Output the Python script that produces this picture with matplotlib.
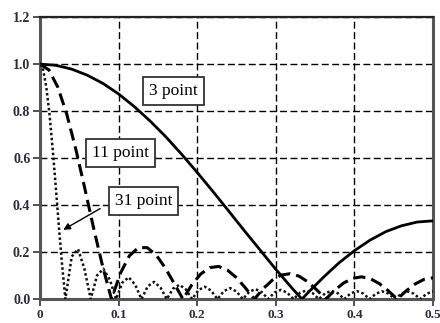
import matplotlib
matplotlib.use("Agg")
import matplotlib.pyplot as plt

# 3 point moving average
f3 = [0.00, 0.02, 0.04, 0.06, 0.08, 0.10, 0.12, 0.14, 0.16, 0.18, 0.20, 0.22, 0.24,
      0.26, 0.28, 0.30, 0.32, 0.3333, 0.34, 0.36, 0.38, 0.40, 0.42, 0.44, 0.46, 0.48, 0.50]
h3 = [1.000, 0.995, 0.979, 0.953, 0.918, 0.873, 0.819, 0.758, 0.691, 0.617, 0.539, 0.458, 0.375,
      0.291, 0.209, 0.127, 0.049, 0.000, 0.024, 0.091, 0.153, 0.206, 0.251, 0.287, 0.312, 0.328, 0.333]

# 11 point moving average
f11 = [0.0000, 0.01136, 0.02273, 0.03409, 0.04545, 0.05682, 0.06818, 0.07955, 0.09091,
       0.10227, 0.11364, 0.12500, 0.13636, 0.14773, 0.15909, 0.17045, 0.18182,
       0.19318, 0.20455, 0.21591, 0.22727, 0.23864, 0.25000, 0.26136, 0.27273,
       0.28409, 0.29545, 0.30682, 0.31818, 0.32955, 0.34091, 0.35227, 0.36364,
       0.37500, 0.38636, 0.39773, 0.40909, 0.42045, 0.43182, 0.44318, 0.45455,
       0.46591, 0.47727, 0.48864, 0.50000]
h11 = [1.000, 0.975, 0.901, 0.786, 0.639, 0.473, 0.302, 0.141, 0.000,
       0.110, 0.184, 0.219, 0.219, 0.188, 0.134, 0.068, 0.000,
       0.061, 0.107, 0.134, 0.139, 0.123, 0.091, 0.0475, 0.000,
       0.0447, 0.0803, 0.1022, 0.108, 0.0977, 0.0733, 0.0389, 0.000,
       0.0377, 0.0686, 0.0885, 0.0947, 0.0867, 0.0658, 0.0354, 0.000,
       0.035, 0.0644, 0.0840, 0.0909]

# 31 point moving average
f31 = [0.0, 0.004, 0.00806, 0.012, 0.01613, 0.020, 0.02419, 0.028, 0.03226,
       0.04032, 0.04839, 0.05645, 0.06452, 0.07258, 0.08065, 0.08871, 0.09677,
       0.10484, 0.11290, 0.12097, 0.12903, 0.13710, 0.14516, 0.15323, 0.16129,
       0.16935, 0.17742, 0.18548, 0.19355, 0.20161, 0.20968, 0.21774, 0.22581,
       0.23387, 0.24194, 0.25000, 0.25806, 0.26613, 0.27419, 0.28226, 0.29032,
       0.29839, 0.30645, 0.31452, 0.32258, 0.33065, 0.33871, 0.34677, 0.35484,
       0.36290, 0.37097, 0.37903, 0.38710, 0.39516, 0.40323, 0.41129, 0.41935,
       0.42742, 0.43548, 0.44355, 0.45161, 0.45968, 0.46774, 0.47581, 0.48387,
       0.49194, 0.50000]
h31 = [1.000, 0.975, 0.900, 0.788, 0.637, 0.478, 0.300, 0.148, 0.000,
       0.181, 0.213, 0.129, 0.000, 0.101, 0.129, 0.083, 0.000,
       0.0705, 0.0929, 0.0615, 0.000, 0.0546, 0.0732, 0.0493, 0.000,
       0.0450, 0.0610, 0.0414, 0.000, 0.0385, 0.0527, 0.0361, 0.000,
       0.0340, 0.0468, 0.0323, 0.000, 0.0307, 0.0425, 0.0294, 0.000,
       0.0283, 0.0393, 0.0273, 0.000, 0.0265, 0.0369, 0.0257, 0.000,
       0.0251, 0.0351, 0.0246, 0.000, 0.0241, 0.0338, 0.0237, 0.000,
       0.0234, 0.0329, 0.0232, 0.000, 0.0230, 0.0324, 0.0229, 0.000,
       0.0228, 0.0323]

xticks = [0, 0.1, 0.2, 0.3, 0.4, 0.5]
xticklabels = ["0", "0.1", "0.2", "0.3", "0.4", "0.5"]
yticks = [0.0, 0.2, 0.4, 0.6, 0.8, 1.0, 1.2]
yticklabels = ["0.0", "0.2", "0.4", "0.6", "0.8", "1.0", "1.2"]

fig = plt.figure(figsize=(4.4, 3.23), dpi=100)
ax = fig.add_axes([0.091, 0.074, 0.893, 0.873])

ax.plot(f3, h3, color="black", lw=2.0, solid_capstyle="butt", zorder=3)
ax.plot(f11, h11, color="black", lw=2.2, linestyle=(0, (4, 2)), zorder=3)
ax.plot(f31, h31, color="#111111", lw=1.8, linestyle=(0, (1, 1.0)), zorder=3)

ax.set_xlim(0, 0.5)
ax.set_ylim(0, 1.2)
ax.set_xticks(xticks)
ax.set_xticklabels(xticklabels)
ax.set_yticks(yticks)
ax.set_yticklabels(yticklabels)
ax.grid(True, color="black", lw=1.0, linestyle=(0, (5, 2.5)))
ax.set_axisbelow(True)

for lbl in ax.get_xticklabels():
    lbl.set_fontfamily("Liberation Serif")
    lbl.set_fontweight("bold")
    lbl.set_fontsize(9.5)
    lbl.set_color("#2b2b3b")
for lbl in ax.get_yticklabels():
    lbl.set_fontfamily("Liberation Serif")
    lbl.set_fontweight("bold")
    lbl.set_fontsize(10)
    lbl.set_color("#2b2b3b")
ax.tick_params(direction="out", length=5, width=1.2, pad=2, color="#333333")

for side in ["left", "bottom", "right"]:
    ax.spines[side].set_linewidth(2.2)
    ax.spines[side].set_color("#555555")
ax.spines["top"].set_linewidth(1.6)
ax.spines["top"].set_color("#222222")

box = dict(boxstyle="square,pad=0.35", fc="white", ec="#333333", lw=1.3)
tfont = dict(family="Liberation Serif", fontsize=12.5, color="black")
ax.text(0.1693, 0.885, "3 point", ha="center", va="center", bbox=box, zorder=5, **tfont)
ax.text(0.1024, 0.623, "11 point", ha="center", va="center", bbox=box, zorder=5, **tfont)
ax.annotate("", xy=(0.0265, 0.289), xytext=(0.0795, 0.391),
            arrowprops=dict(arrowstyle="-|>", color="black", lw=1.0, mutation_scale=10),
            zorder=5)
ax.text(0.1317, 0.419, "31 point", ha="center", va="center", bbox=box, zorder=5, **tfont)

fig.savefig("out.png", dpi=100)
